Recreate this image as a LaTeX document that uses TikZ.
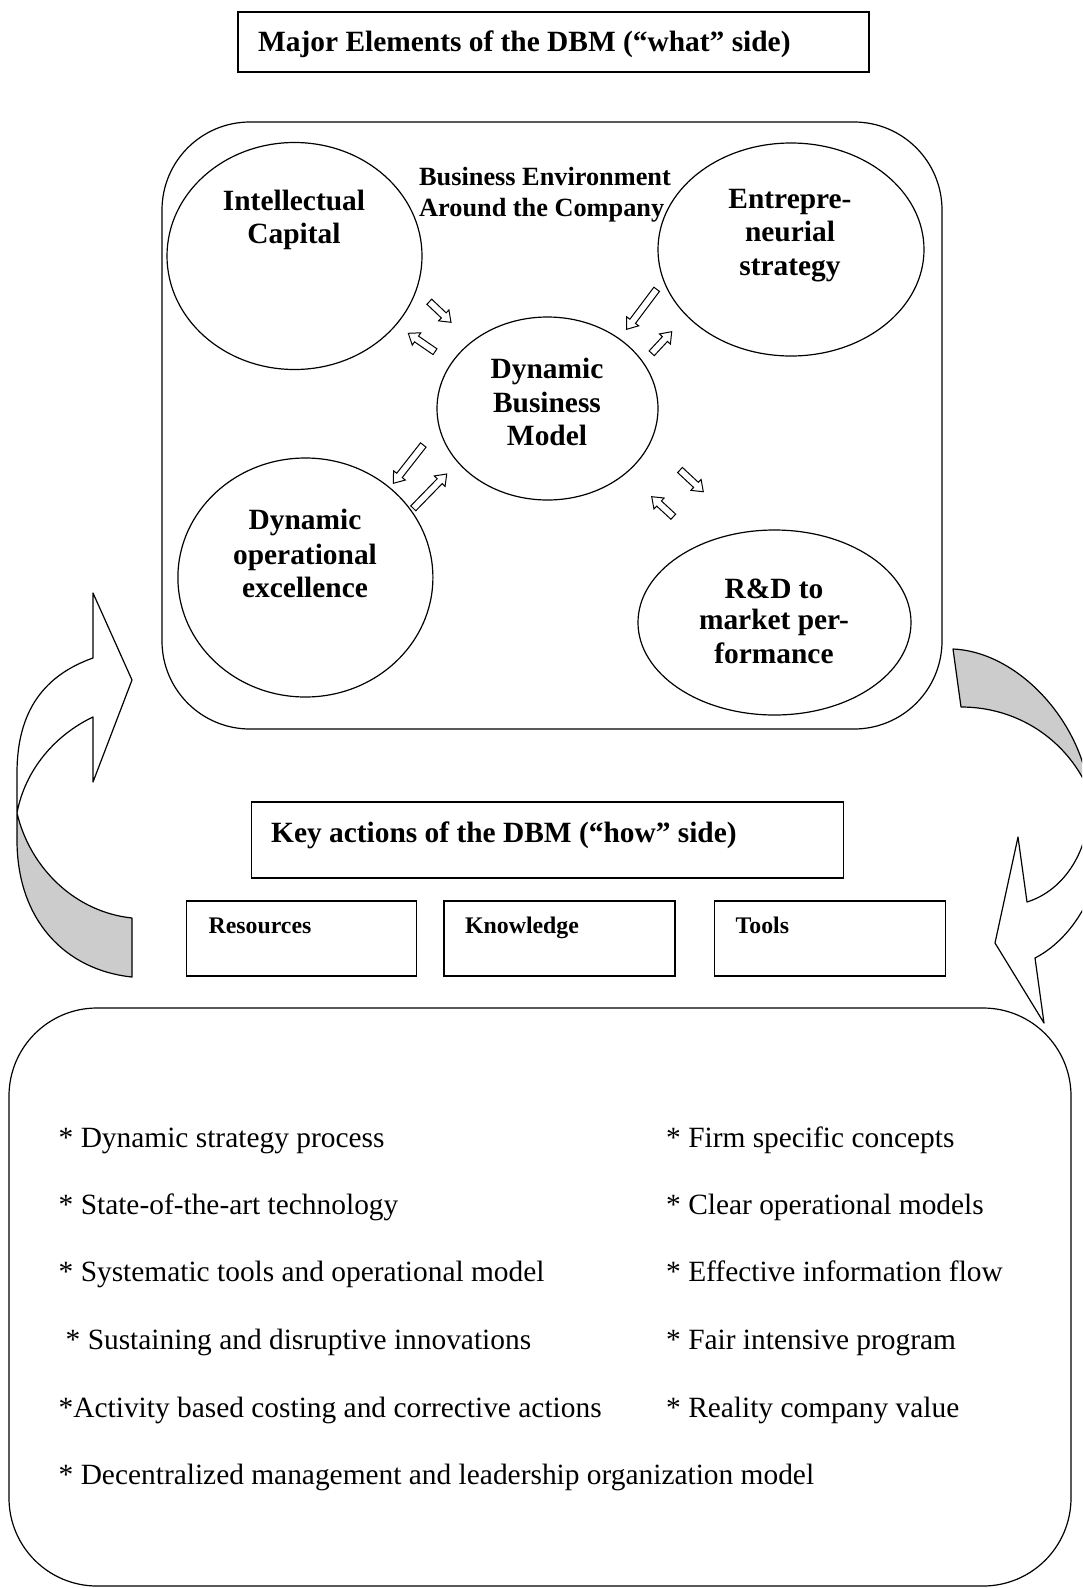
\documentclass[tikz,border=0pt]{standalone}
\usepackage{fontspec}
\setmainfont{Liberation Serif}
\usetikzlibrary{shapes.geometric,calc}
\tikzset{
  ln/.style={line width=1.2pt},
  ell/.style={draw, ellipse, ln, inner sep=0pt, outer sep=0pt},
  sqbox/.style={draw, rectangle, ln, inner sep=0pt, outer sep=0pt},
  rbox/.style={draw, rectangle, ln, rounded corners=88pt, inner sep=0pt, outer sep=0pt},
  blk/.style={draw, line width=1pt, fill=white, line join=miter},
  bigb/.style={font=\fontsize{29.4}{33}\selectfont\bfseries, inner sep=0pt, anchor=base},
  envt/.style={font=\fontsize{26.3}{30}\selectfont\bfseries, inner sep=0pt, anchor=base west},
  smallb/.style={font=\fontsize{23.8}{27}\selectfont\bfseries, inner sep=0pt, anchor=base west},
  listtxt/.style={font=\fontsize{29.4}{33}\selectfont, inner sep=0pt, anchor=base west},
  greyfill/.style={fill=black!20, draw=none}
}
\newcommand{\blockarrow}[2]{%
  \coordinate (bah) at ($(#2)!10pt!(#1)$);
  \draw[blk] ($(#1)!3.5pt!90:(#2)$) -- ($(bah)!3.5pt!90:(#2)$) -- ($(bah)!7.5pt!90:(#2)$)
    -- (#2) -- ($(bah)!7.5pt!-90:(#2)$) -- ($(bah)!3.5pt!-90:(#2)$) -- ($(#1)!3.5pt!-90:(#2)$) -- cycle;}
\begin{document}
\begin{tikzpicture}[x=1pt, y=-1pt]
\useasboundingbox (0,0) rectangle (1082,1588);
\clip (0,0) rectangle (1082,1588);

% ---------- top title box
\node[sqbox, minimum width=631pt, minimum height=60pt] (tbox) at (553.5,42) {};
\node[bigb, anchor=base west] (ttxt) at (258,51.5) {Major Elements of the DBM (“what” side)};

% ---------- environment box
\node[rbox, minimum width=780pt, minimum height=607pt] (env) at (552,425.5) {};
\node[envt] (bea) at (419,185.2) {Business Environment};
\node[envt] (beb) at (419,216.6) {Around the Company};

% ---------- ellipses
\node[ell, minimum width=255pt, minimum height=227pt] (ic) at (294.5,256) {};
\node[bigb] (ict1) at (294,210.4) {Intellectual};
\node[bigb] (ict2) at (294,243.8) {Capital};

\node[ell, minimum width=266pt, minimum height=213pt] (es) at (791,249.5) {};
\node[bigb] (est1) at (790,208.4) {Entrepre-};
\node[bigb] (est2) at (790,241.8) {neurial};
\node[bigb] (est3) at (790,275.2) {strategy};

\node[ell, minimum width=221pt, minimum height=183pt] (dbm) at (547.5,408.5) {};
\node[bigb] (dbm1) at (547,378.6) {Dynamic};
\node[bigb] (dbm2) at (547,412) {Business};
\node[bigb] (dbm3) at (547,445.4) {Model};

\node[ell, minimum width=255pt, minimum height=239pt] (doe) at (305.4,577.5) {};
\node[bigb] (doe1) at (305,529.5) {Dynamic};
\node[bigb] (doe2) at (305,564) {operational};
\node[bigb] (doe3) at (305,597.4) {excellence};

\node[ell, minimum width=273pt, minimum height=185pt] (rd) at (774.5,622.5) {};
\node[bigb] (rd1) at (774,598.3) {R\&D to};
\node[bigb] (rd2) at (774,629.8) {market per-};
\node[bigb] (rd3) at (774,663.5) {formance};

% ---------- small block arrows
\coordinate (a1t) at (429.3,301.7); \coordinate (a1h) at (451,322.3);
\coordinate (a2t) at (435,351.7);   \coordinate (a2h) at (408.3,333.3);
\coordinate (a3t) at (656.7,289.3); \coordinate (a3h) at (626.7,329.3);
\coordinate (a4t) at (651.7,353.3); \coordinate (a4h) at (671.7,331.7);
\coordinate (a5t) at (423.3,445);   \coordinate (a5h) at (393.3,483.3);
\coordinate (a6t) at (413.3,508.3); \coordinate (a6h) at (446.7,474);
\coordinate (a7t) at (680,470);     \coordinate (a7h) at (703.3,491.7);
\coordinate (a8t) at (673.3,516.7); \coordinate (a8h) at (651.7,496.7);
\blockarrow{a1t}{a1h}
\blockarrow{a2t}{a2h}
\blockarrow{a3t}{a3h}
\blockarrow{a4t}{a4h}
\blockarrow{a5t}{a5h}
\blockarrow{a6t}{a6h}
\blockarrow{a7t}{a7h}
\blockarrow{a8t}{a8h}

% ---------- left curved arrow
\path[greyfill] (17,813) .. controls (30,868) and (75,912) .. (132,918) -- (132,977)
  .. controls (65,970) and (17,920) .. (17,840) -- cycle;
\draw[ln, line join=round] (132,918) -- (132,977) .. controls (65,970) and (17,920) .. (17,840)
  -- (17,773) .. controls (17,710) and (45,675) .. (93,658) -- (93,593) -- (132,680)
  -- (93,782) -- (93,717) .. controls (55,735) and (25,770) .. (17,813)
  .. controls (30,868) and (75,912) .. (132,918) -- cycle;

% ---------- right curved arrow
\path[greyfill] (953,649) .. controls (1020,652) and (1085,725) .. (1090,800) -- (1100,845)
  .. controls (1100,770) and (1040,707) .. (961,707) -- cycle;
\draw[ln, line join=round] (953,649) -- (961,707) .. controls (1040,707) and (1100,770) .. (1100,845)
  .. controls (1100,895) and (1070,940) .. (1035,958) -- (1044,1023) -- (995,943) -- (1018,837)
  -- (1027,902) .. controls (1065,890) and (1090,850) .. (1090,800)
  .. controls (1085,725) and (1020,652) .. (953,649) -- cycle;

% ---------- how side
\node[sqbox, minimum width=592pt, minimum height=76pt] (kbox) at (547.5,840) {};
\node[bigb, anchor=base west] (ktxt) at (271,842) {Key actions of the DBM (“how” side)};

\node[sqbox, minimum width=230pt, minimum height=75pt] (res) at (301.5,938.5) {};
\node[smallb] (rest) at (208.5,933.8) {Resources};
\node[sqbox, minimum width=231pt, minimum height=75pt] (kno) at (559.5,938.5) {};
\node[smallb] (knot) at (465,933.8) {Knowledge};
\node[sqbox, minimum width=231pt, minimum height=75pt] (too) at (830,938.5) {};
\node[smallb] (toot) at (735.5,933.8) {Tools};

% ---------- bottom box
\node[rbox, minimum width=1062pt, minimum height=578pt] (lst) at (540,1297) {};
\node[listtxt] (l1) at (58.5,1147) {* Dynamic strategy process};
\node[listtxt] (l2) at (58.5,1214) {* State-of-the-art technology};
\node[listtxt] (l3) at (58.5,1281.5) {* Systematic tools and operational model};
\node[listtxt] (l4) at (65.5,1349) {* Sustaining and disruptive innovations};
\node[listtxt] (l5) at (58.5,1417) {*Activity based costing and corrective actions};
\node[listtxt] (l6) at (58.5,1484) {* Decentralized management and leadership organization model};
\node[listtxt] (r1) at (666,1147) {* Firm specific concepts};
\node[listtxt] (r2) at (666,1214) {* Clear operational models};
\node[listtxt] (r3) at (666,1281.5) {* Effective information flow};
\node[listtxt] (r4) at (666,1349) {* Fair intensive program};
\node[listtxt] (r5) at (666,1417) {* Reality company value};
\end{tikzpicture}
\end{document}
